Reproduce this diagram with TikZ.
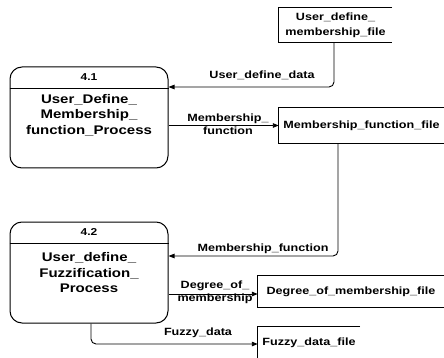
\documentclass[tikz,border=0pt]{standalone}
\usepackage{fontspec}
\setmainfont{Liberation Sans}[FakeStretch=1.2]
\usetikzlibrary{arrows.meta}
\begin{document}
\begin{tikzpicture}[x=1pt,y=-1pt]
\tikzset{
 proc/.style={draw, line width=1pt, rounded corners=12pt, minimum width=158pt, minimum height=101pt, inner sep=0pt},
 store/.style={inner sep=0pt, font=\fontsize{10.5}{15}\selectfont\bfseries, align=center},
 lbl/.style={font=\fontsize{10.5}{13.5}\selectfont\bfseries, align=center, inner sep=1pt},
 ptitle/.style={font=\fontsize{12.5}{15.5}\selectfont\bfseries, align=center, inner sep=0pt},
 pnum/.style={font=\fontsize{10}{12}\selectfont\bfseries, inner sep=0pt},
 flow/.style={line width=0.9pt, -{Triangle[length=6pt,width=4.5pt]}, rounded corners=5pt},
 edgeline/.style={line width=0.9pt}
}
\useasboundingbox (0,0) rectangle (444,358);
% process 4.1
\node[proc] (p41) at (89,117.5) {};
\node[pnum] (n41) at (89,77.5) {4.1};
\draw[edgeline] (p41.west |- 0,88) -- (p41.east |- 0,88);
\node[ptitle] (t41) at (89,115) {User\_Define\_\\Membership\_\\function\_Process};
% process 4.2
\node[proc] (p42) at (89,272.5) {};
\node[pnum] (n42) at (89,232.5) {4.2};
\draw[edgeline] (p42.west |- 0,243) -- (p42.east |- 0,243);
\node[ptitle] (t42) at (89,273) {User\_define\_\\Fuzzification\_\\Process};
% stores
\node[store, minimum width=113pt, minimum height=34pt] (s1) at (335.5,25) {User\_define\_\\membership\_file};
\draw[edgeline] (s1.north east) -- (s1.north west) -- (s1.south west) -- (s1.south east);
\node[store, minimum width=165pt, minimum height=35pt] (s2) at (361.5,125.5) {Membership\_function\_file};
\draw[edgeline] (s2.north east) -- (s2.north west) -- (s2.south west) -- (s2.south east);
\node[store, minimum width=186pt, minimum height=31pt] (s3) at (351,291.5) {Degree\_of\_membership\_file};
\draw[edgeline] (s3.north east) -- (s3.north west) -- (s3.south west) -- (s3.south east);
\node[store, minimum width=102pt, minimum height=32pt] (s4) at (309,343) {Fuzzy\_data\_file};
\draw[edgeline] (s4.north east) -- (s4.north west) -- (s4.south west);
% flows
\draw[flow] ([xshift=-1.5pt]s1.south) |- (p41.east |- 0,87);
\node[lbl] (l1) at (262,75) {User\_define\_data};
\draw[flow] (p41.east |- s2.west) -- (s2.west);
\node[lbl] (l2) at (228,124) {Membership\_\\function};
\draw[flow] ([xshift=-23.5pt]s2.south) |- (p42.east |- 0,256);
\node[lbl] (l3) at (263,249) {Membership\_function};
\draw[flow] (p42.east |- 0,294) -- (s3.west |- 0,294);
\node[lbl] (l4) at (215,292.5) {Degree\_of\_\\membership};
\draw[flow] ([xshift=2pt]p42.south) |- (s4.west |- 0,344);
\node[lbl] (l5) at (198,333) {Fuzzy\_data};
\end{tikzpicture}
\end{document}
